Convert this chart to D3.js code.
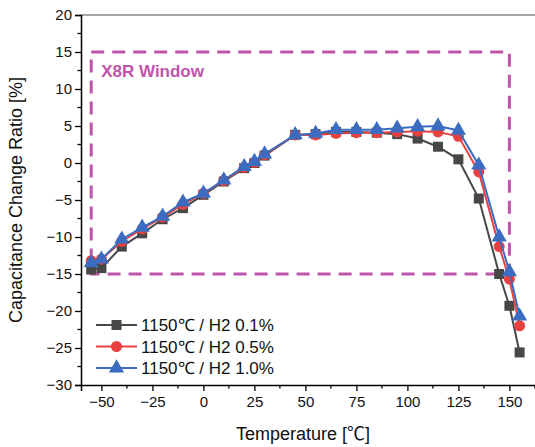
<!DOCTYPE html>
<html>
<head>
<meta charset="utf-8">
<script src="https://cdn.jsdelivr.net/npm/d3@7"></script>
<style>
  body { margin: 0; background: #fff; }
  text { font-family: "Liberation Sans", Arial, sans-serif; }
  .cjk { font-family: "Noto Sans CJK SC", sans-serif; }
</style>
</head>
<body>
<div id="chart"></div>
<script>
const temps = [-55, -50, -40, -30, -20, -10, 0, 10, 20, 25, 30, 45, 55, 65, 75, 85, 95, 105, 115, 125, 135, 145, 150, 155];
const h2_01 = [-14.4, -14.2, -11.3, -9.5, -7.6, -6.1, -4.3, -2.5, -0.7, 0.0, 1.0, 3.8, 3.9, 4.2, 4.2, 4.1, 3.9, 3.3, 2.2, 0.5, -4.8, -15.0, -19.3, -25.6];
const h2_05 = [-13.2, -13.0, -10.6, -8.9, -7.3, -5.6, -4.1, -2.4, -0.6, 0.1, 1.1, 3.8, 3.8, 4.0, 4.1, 4.1, 4.2, 4.3, 4.2, 3.6, -1.2, -11.3, -15.7, -22.0];
const h2_10 = [-13.5, -13.0, -10.3, -8.7, -7.2, -5.3, -4.1, -2.3, -0.5, 0.2, 1.2, 3.8, 4.0, 4.5, 4.5, 4.5, 4.7, 4.9, 5.0, 4.4, -0.3, -10.0, -14.7, -20.7];
const seriesNames = ["1150\u2103 / H2 0.1%", "1150\u2103 / H2 0.5%", "1150\u2103 / H2 1.0%"];
const xTicks = [-50, -25, 0, 25, 50, 75, 100, 125, 150];
const yTicks = [-30, -25, -20, -15, -10, -5, 0, 5, 10, 15, 20];
const x8r = { tMin: -55, tMax: 150, cMin: -15, cMax: 15 };

const width = 535, height = 447;
const margin = { top: 15, right: -5, bottom: 62, left: 81 };

const svg = d3.select("#chart").append("svg")
  .attr("width", width).attr("height", height);

const x = d3.scaleLinear().domain([-60, 165]).range([margin.left, width - margin.right]);
const y = d3.scaleLinear().domain([-30, 20]).range([height - margin.bottom, margin.top]);

const series = [
  { name: seriesNames[0], values: h2_01, color: "#474747", shape: d3.symbolSquare, size: 100 },
  { name: seriesNames[1], values: h2_05, color: "#e8413f", shape: d3.symbolCircle, size: 95 },
  { name: seriesNames[2], values: h2_10, color: "#3b6cc0", shape: d3.symbolTriangle, size: 100 }
];

// top frame line
svg.append("line")
  .attr("x1", x(-60)).attr("x2", width)
  .attr("y1", y(20)).attr("y2", y(20))
  .attr("stroke", "#888").attr("stroke-width", 1.5);

// X8R window
const purple = "#bf55ab";
svg.append("rect")
  .attr("x", x(x8r.tMin)).attr("y", y(x8r.cMax))
  .attr("width", x(x8r.tMax) - x(x8r.tMin))
  .attr("height", y(x8r.cMin) - y(x8r.cMax))
  .attr("fill", "none").attr("stroke", purple)
  .attr("stroke-width", 3).attr("stroke-dasharray", "13,8");

svg.append("text")
  .attr("x", x(x8r.tMin) + 10).attr("y", y(x8r.cMax) + 25)
  .attr("fill", purple).attr("font-size", 17).attr("font-weight", "bold")
  .text("X8R Window");

// axes
const fmt = d => d < 0 ? "\u2212" + Math.abs(d) : d;
const xAxis = svg.append("g")
  .attr("transform", `translate(0,${y(-30)})`)
  .call(d3.axisBottom(x).tickValues(xTicks).tickSize(6).tickPadding(5).tickFormat(fmt));
xAxis.append("g").selectAll("line")
  .data(d3.range(-37.5, 165, 25))
  .join("line")
  .attr("x1", d => x(d)).attr("x2", d => x(d))
  .attr("y1", 0).attr("y2", 3.5)
  .attr("stroke", "#000").attr("stroke-width", 1.3);

const yAxis = svg.append("g")
  .attr("transform", `translate(${x(-60)},0)`)
  .call(d3.axisLeft(y).tickValues(yTicks).tickSize(6).tickPadding(3).tickFormat(fmt));
yAxis.append("g").selectAll("line")
  .data(d3.range(-27.5, 20, 5))
  .join("line")
  .attr("x1", 0).attr("x2", -3.5)
  .attr("y1", d => y(d)).attr("y2", d => y(d))
  .attr("stroke", "#000").attr("stroke-width", 1.3);

[xAxis, yAxis].forEach(a => {
  a.select(".domain").attr("stroke", "#000").attr("stroke-width", 1.5);
  a.selectAll(".tick line").attr("stroke-width", 1.3);
  a.selectAll("text").attr("font-size", 15).attr("fill", "#111")
    .attr("font-family", "'Liberation Sans', Arial, sans-serif");
});

// axis titles
const xt = svg.append("text")
  .attr("x", 303).attr("y", 440)
  .attr("text-anchor", "middle").attr("font-size", 18).attr("fill", "#111");
xt.append("tspan").text("Temperature [");
xt.append("tspan").attr("class", "cjk").text("\u2103");
xt.append("tspan").text("]");

svg.append("text")
  .attr("transform", `translate(22,${y(-5)}) rotate(-90)`)
  .attr("text-anchor", "middle").attr("font-size", 18).attr("fill", "#111")
  .text("Capacitance Change Ratio [%]");

// series
const line = d3.line().x((d, i) => x(temps[i])).y(d => y(d));

series.forEach(s => {
  const g = svg.append("g");
  g.append("path")
    .datum(s.values)
    .attr("d", line)
    .attr("fill", "none").attr("stroke", s.color).attr("stroke-width", 2);
  g.selectAll("path.pt")
    .data(s.values)
    .join("path")
    .attr("class", "pt")
    .attr("transform", (d, i) => `translate(${x(temps[i])},${y(d)})`)
    .attr("d", d3.symbol().type(s.shape).size(s.size))
    .attr("fill", s.color);
});

// legend
const legend = svg.append("g");
series.forEach((s, i) => {
  const ly = 325 + i * 21.5;
  legend.append("line")
    .attr("x1", 96).attr("x2", 137).attr("y1", ly).attr("y2", ly)
    .attr("stroke", s.color).attr("stroke-width", 2);
  legend.append("path")
    .attr("transform", `translate(116.5,${ly})`)
    .attr("d", d3.symbol().type(s.shape).size(s.size))
    .attr("fill", s.color);
  legend.append("text")
    .attr("x", 141).attr("y", ly + 6)
    .attr("font-size", 17).attr("fill", "#111")
    .text(s.name);
});
</script>
</body>
</html>
